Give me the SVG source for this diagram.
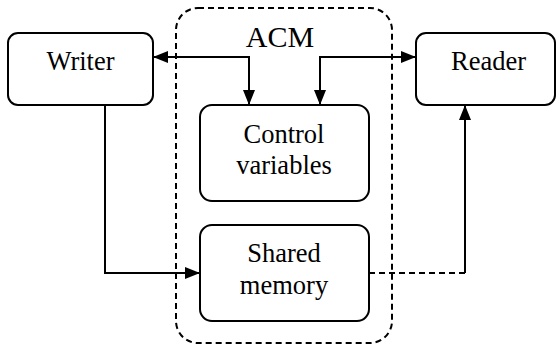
<svg xmlns="http://www.w3.org/2000/svg" width="557" height="347" viewBox="0 0 557 347">
<style>
.box{fill:#fff;stroke:#000;stroke-width:2}
.lbl{font-family:"Liberation Serif","Times New Roman",serif;font-size:26.5px;fill:#000;text-anchor:middle}
.con{fill:none;stroke:#000;stroke-width:2}
.dash{fill:none;stroke:#000;stroke-width:2;stroke-dasharray:6,4}
</style>
<defs>
<marker id="ah" viewBox="0 0 15 12" refX="15" refY="6" markerWidth="15" markerHeight="12" orient="auto-start-reverse" markerUnits="userSpaceOnUse">
<path d="M0,0 L15,6 L0,12 z" fill="#000"/>
</marker>
</defs>
<rect fill="#fff" width="557" height="347"/>
<g id="acm">
<rect x="176" y="8" width="216" height="335" rx="22" ry="22" class="dash"/>
<text x="280" y="47" class="lbl" style="font-size:30px">ACM</text>
</g>
<g id="writer">
<rect x="8" y="33" width="145" height="72" rx="10" ry="10" class="box"/>
<text x="80.5" y="70" class="lbl">Writer</text>
</g>
<g id="reader">
<rect x="416" y="33" width="139" height="72" rx="10" ry="10" class="box"/>
<text x="488.5" y="70" class="lbl">Reader</text>
</g>
<g id="control">
<rect x="200" y="105" width="169" height="96" rx="12" ry="12" class="box"/>
<text x="284" y="143" class="lbl">Control</text>
<text x="284" y="174" class="lbl">variables</text>
</g>
<g id="shared">
<rect x="200" y="225" width="169" height="96" rx="12" ry="12" class="box"/>
<text x="284" y="262" class="lbl">Shared</text>
<text x="284" y="294" class="lbl">memory</text>
</g>
<g id="connectors">
<path d="M153,57 L249,57 L249,105" class="con" marker-start="url(#ah)" marker-end="url(#ah)"/>
<path d="M320,105 L320,57 L416,57" class="con" marker-start="url(#ah)" marker-end="url(#ah)"/>
<path d="M105,105 L105,273 L200,273" class="con" marker-end="url(#ah)"/>
<path d="M369,273 L465,273" class="dash"/>
<path d="M465,273 L465,105" class="con" marker-end="url(#ah)"/>
</g>
</svg>
